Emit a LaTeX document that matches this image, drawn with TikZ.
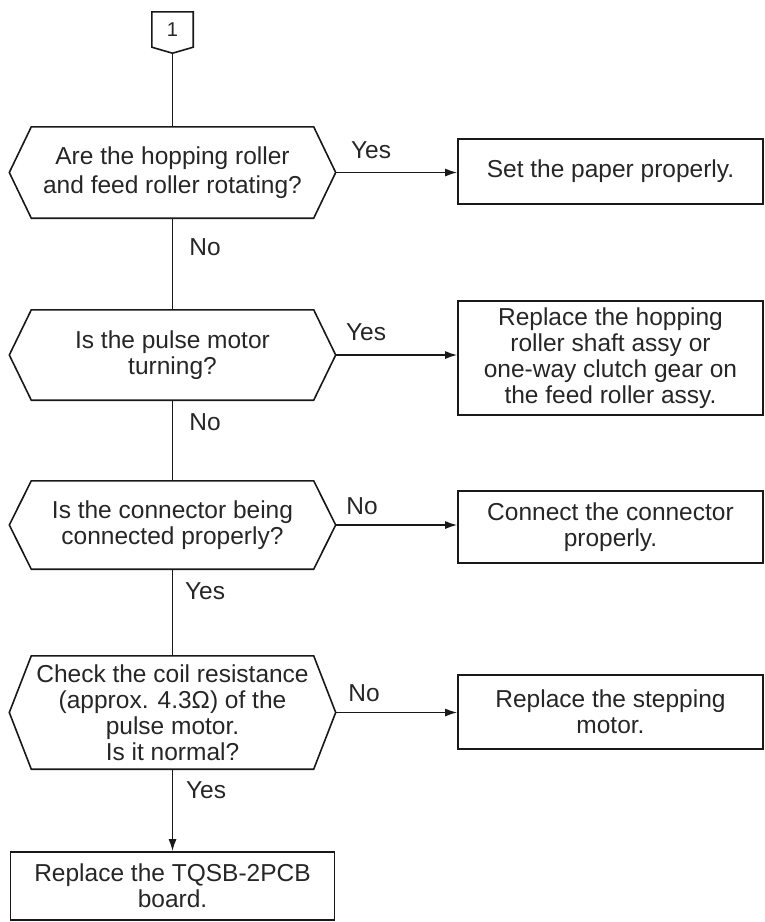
\documentclass[tikz,border=0pt]{standalone}
\usepackage{fontspec}
\setmainfont{Liberation Sans}
\usetikzlibrary{arrows.meta}
\begin{document}
\begin{tikzpicture}[x=1pt,y=-1pt,
  every node/.style={font=\fontsize{24.5}{26}\selectfont, text=black!85},
  hexa/.style={draw=none, minimum width=326pt, minimum height=#1, inner sep=0pt, align=center},
  proc/.style={draw=black!90, line width=1.6pt, inner sep=0pt, align=center, minimum width=305pt},
  lbl/.style={inner sep=0pt},
  conn/.style={draw=black!90, line width=1.6pt},
  arr/.style={conn, -{Latex[length=12pt,width=8pt]}}
]
\useasboundingbox (0,0) rectangle (764,922);

% off-page connector
\node[lbl, minimum width=41pt, minimum height=35pt, font=\fontsize{20}{22}\selectfont] (c1) at (172.5,29.5) {1};
\draw[conn] (c1.north west) -- (c1.north east) -- (c1.south east) -- ([yshift=-6pt]c1.south) -- (c1.south west) -- cycle;
\coordinate (c1tip) at ([yshift=-6pt]c1.south);

% decisions
\node[hexa=91pt] (d1) at (172.5,172.5) {Are the hopping roller\\[3pt]and feed roller rotating?};
\node[hexa=90pt] (d2) at (172.5,355) {Is the pulse motor\\turning?};
\node[hexa=88pt] (d3) at (172.5,525) {Is the connector being\\connected properly?};
\node[hexa=113pt] (d4) at (172.5,712.5) {Check the coil resistance\\(approx. 4.3Ω) of the\\pulse motor.\\Is it normal?};
\foreach \n in {d1,d2,d3,d4}
  \draw[conn] (\n.west) -- ([xshift=22pt]\n.north west) -- ([xshift=-22pt]\n.north east) -- (\n.east)
    -- ([xshift=-22pt]\n.south east) -- ([xshift=22pt]\n.south west) -- cycle;

% process boxes
\node[proc, minimum height=65pt] (b1) at (610.5,171.5) {Set the paper properly.};
\node[proc, minimum height=114pt] (b2) at (610.5,358) {Replace the hopping\\roller shaft assy or\\one-way clutch gear on\\the feed roller assy.};
\node[proc, minimum height=72pt] (b3) at (610.5,527) {Connect the connector\\properly.};
\node[proc, minimum height=74pt] (b4) at (610.5,712) {Replace the stepping\\motor.};
\node[proc, minimum width=324pt, minimum height=68pt] (b5) at (172.5,886) {Replace the TQSB-2PCB\\board.};

% connectors
\draw[conn] (c1tip) -- (d1.north);
\draw[conn] (d1.south) -- (d2.north);
\draw[conn] (d2.south) -- (d3.north);
\draw[conn] (d3.south) -- (d4.north);
\draw[arr] (d4.south) -- (d4.south |- b5.north);
\draw[arr] (d1.east) -- (d1.east -| b1.west);
\draw[arr] (d2.east) -- (d2.east -| b2.west);
\draw[arr] (d3.east) -- (d3.east -| b3.west);
\draw[arr] (d4.east) -- (d4.east -| b4.west);

% labels
\node[lbl] (y1) at (371,150) {Yes};
\node[lbl] (n1) at (205,247) {No};
\node[lbl] (y2) at (366,332) {Yes};
\node[lbl] (n2) at (205,422) {No};
\node[lbl] (n3) at (362,506) {No};
\node[lbl] (y3) at (205,591) {Yes};
\node[lbl] (n4) at (364,693) {No};
\node[lbl] (y4) at (206,790) {Yes};
\end{tikzpicture}
\end{document}
